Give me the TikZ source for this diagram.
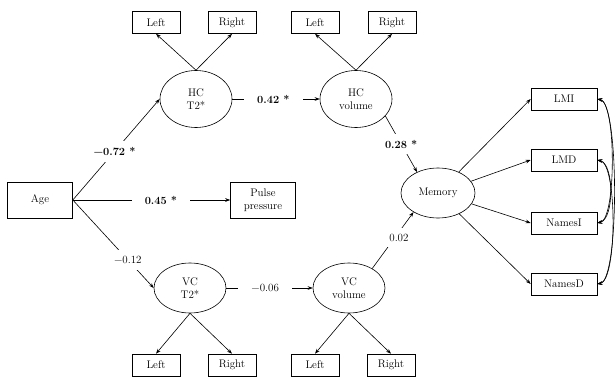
\documentclass[tikz,border=0pt]{standalone}
\usepackage{fontspec}
\usetikzlibrary{arrows.meta,shapes.geometric}
\begin{document}
\begin{tikzpicture}[x=1pt,y=-1pt,
  font=\fontsize{11}{13.5}\selectfont,
  line width=0.6pt,
  box/.style={draw, rectangle, minimum width=48pt, minimum height=22pt, inner sep=0pt},
  ibox/.style={draw, rectangle, minimum width=66pt, minimum height=22pt, inner sep=0pt},
  bigbox/.style={draw, rectangle, minimum width=65pt, minimum height=36pt, inner sep=0pt, align=center},
  lat/.style={draw, ellipse, minimum width=72pt, minimum height=52pt, inner sep=0pt, align=center},
  arr/.style={-{Stealth[length=5pt,width=3.6pt]}},
  cov/.style={{Stealth[length=5pt,width=3.6pt]}-{Stealth[length=5pt,width=3.6pt]}},
  lab/.style={fill=white, inner xsep=13pt, inner ysep=6pt},
  blab/.style={lab, font=\fontsize{11}{13.5}\selectfont\bfseries}]
\useasboundingbox (0,0) rectangle (615,377);

% top indicators
\node[box] (tL1) at (156,22.5) {Left};
\node[box] (tR1) at (232,22.5) {Right};
\node[box] (tL2) at (315,22.5) {Left};
\node[box] (tR2) at (392,22.5) {Right};
% latent top
\node[lat, minimum height=57pt] (hct2) at (196,99) {HC\\T2*};
\node[lat, minimum height=57pt] (hcvol) at (356,99) {HC\\volume};
% middle
\node[bigbox] (age) at (40,200) {Age};
\node[bigbox] (pulse) at (263,200) {Pulse\\pressure};
\node[lat, minimum width=74pt, minimum height=50pt] (mem) at (438,193) {Memory};
% latent bottom
\node[lat, minimum height=50pt] (vct2) at (190,288) {VC\\T2*};
\node[lat, minimum height=50pt] (vcvol) at (349,288) {VC\\volume};
% bottom indicators
\node[box] (bL1) at (156,365) {Left};
\node[box] (bR1) at (232,365) {Right};
\node[box] (bL2) at (315,365) {Left};
\node[box] (bR2) at (391,365) {Right};
% memory indicators
\node[ibox] (lmi) at (564,99) {LMI};
\node[ibox] (lmd) at (564,160) {LMD};
\node[ibox] (nai) at (564,223) {NamesI};
\node[ibox] (nad) at (564,284) {NamesD};

% loadings
\draw[arr] (hct2.north) -- (tL1.south);
\draw[arr] (hct2.north) -- (tR1.south);
\draw[arr] (hcvol.north) -- (tL2.south);
\draw[arr] (hcvol.north) -- (tR2.south);
\draw[arr] (vct2.south) -- (bL1.north);
\draw[arr] (vct2.south) -- (bR1.north);
\draw[arr] (vcvol.south) -- (bL2.north);
\draw[arr] (vcvol.south) -- (bR2.north);
\draw[arr] (mem) -- (lmi.west);
\draw[arr] (mem) -- (lmd.west);
\draw[arr] (mem) -- (nai.west);
\draw[arr] (mem) -- (nad.west);

% structural paths
\draw[arr] (age.east) -- node[blab, pos=0.48] {−0.72 *} (hct2.west);
\draw[arr] (age.east) -- node[blab, pos=0.56] {0.45 *} (pulse.west);
\draw[arr] (age.east) -- node[lab, pos=0.68] {−0.12} (vct2.west);
\draw[arr] (hct2.east) -- node[blab, pos=0.47] {0.42 *} (hcvol.west);
\draw[arr] (vct2.east) -- node[lab, pos=0.45] {−0.06} (vcvol.west);
\draw[arr] (hcvol.-30) -- node[blab, pos=0.5] {0.28 *} (mem.135);
\draw[arr] (vcvol.40) -- node[lab, pos=0.55, xshift=4pt] {0.02} (mem.-142);

% residual covariances
\draw[cov] (lmi.east) .. controls +(22,4) and +(22,-4) .. (nad.east);
\draw[cov] (lmi.east) .. controls +(19,4) and +(19,-4) .. (nai.east);
\draw[cov] (lmd.east) .. controls +(17,4) and +(17,-4) .. (nai.east);
\draw[cov] (lmd.east) .. controls +(20,4) and +(20,-4) .. (nad.east);
\end{tikzpicture}
\end{document}
